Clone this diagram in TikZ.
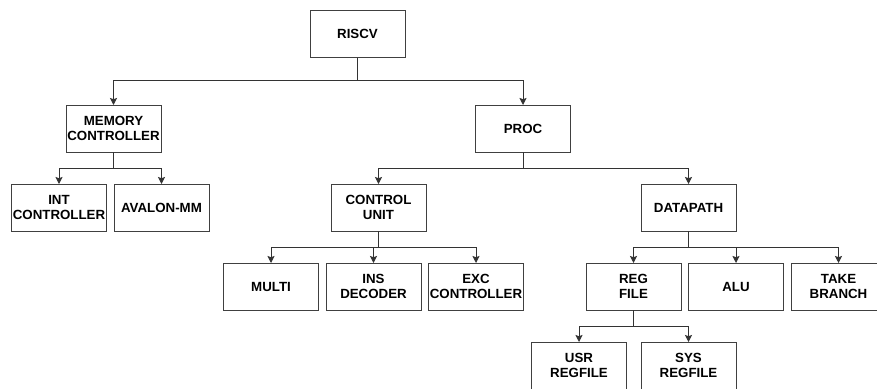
\documentclass[tikz,border=0pt]{standalone}
\usepackage{fontspec}
\setmainfont{Liberation Sans}
\usetikzlibrary{arrows.meta}
\begin{document}
\begin{tikzpicture}[x=1pt,y=-1pt,
  box/.style={draw=black!75,line width=1pt,minimum width=95pt,minimum height=47pt,inner sep=0pt,outer sep=0pt,align=center,font=\fontsize{13.3}{15}\selectfont\bfseries},
  arr/.style={draw=black!80,line width=1pt,-{Stealth[length=7pt,width=7pt,inset=1.2pt]}}]
\useasboundingbox (0,0) rectangle (877,388);
\clip (0,0) rectangle (877,388);
\fill[white] (0,0) rectangle (877,388);
\node[box] (riscv) at (357.5,34) {RISCV};
\node[box] (mem) at (113.5,128.5) {MEMORY\\CONTROLLER};
\node[box] (proc) at (523,128.5) {PROC};
\node[box] (int) at (59,207.5) {INT\\CONTROLLER};
\node[box] (aval) at (161.5,207.5) {AVALON-MM};
\node[box] (cu) at (378.5,207.5) {CONTROL\\UNIT};
\node[box] (dp) at (688.5,207.5) {DATAPATH};
\node[box] (multi) at (271,286.5) {MULTI};
\node[box] (ins) at (373.5,286.5) {INS\\DECODER};
\node[box] (exc) at (476,286.5) {EXC\\CONTROLLER};
\node[box] (reg) at (633.5,286.5) {REG\\FILE};
\node[box] (alu) at (736,286.5) {ALU};
\node[box] (take) at (838.5,286.5) {TAKE\\BRANCH};
\node[box] (usr) at (579,365.5) {USR\\REGFILE};
\node[box] (sys) at (688.5,365.5) {SYS\\REGFILE};
\foreach \p/\c in {riscv/mem,riscv/proc}
  \draw[arr] (\p.south) -- ++(0,23) -| (\c.north);
\foreach \p/\c in {mem/int,mem/aval,proc/cu,proc/dp,cu/multi,cu/ins,cu/exc,dp/reg,dp/alu,dp/take,reg/usr,reg/sys}
  \draw[arr] (\p.south) -- ++(0,16) -| (\c.north);
\end{tikzpicture}
\end{document}
